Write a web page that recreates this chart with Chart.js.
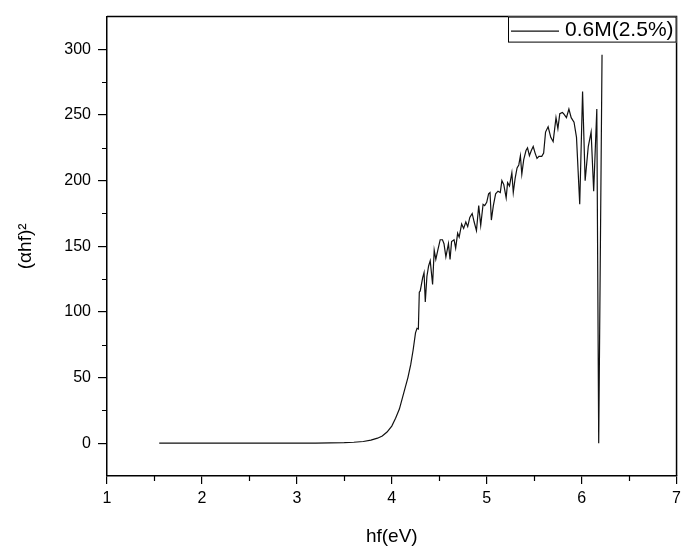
<!DOCTYPE html>
<html>
<head>
<meta charset="utf-8">
<script src="https://cdn.jsdelivr.net/npm/chart.js@4"></script>
<style>
  body { margin: 0; background: #fff; }
  #wrap { width: 686px; height: 548px; }
</style>
</head>
<body>
<div id="wrap"><canvas id="graphique" width="686" height="548"></canvas></div>
<script>
// Données : énergie du photon hf (eV) et (αhf)²
const serieLabel = "0.6M(2.5%)";
const hfValeurs = [
  1.55, 1.8, 2.0, 2.25, 2.5, 2.75, 3.0, 3.2, 3.35, 3.5, 3.6, 3.7, 3.78, 3.85, 3.9, 3.95,
  4.0, 4.04, 4.08, 4.11, 4.14, 4.17, 4.2, 4.225, 4.25, 4.266, 4.28, 4.29, 4.30, 4.325,
  4.34, 4.353, 4.37, 4.388, 4.405, 4.43, 4.447, 4.464, 4.485, 4.51, 4.534, 4.55, 4.57,
  4.597, 4.614, 4.63, 4.656, 4.673, 4.694, 4.71, 4.736, 4.757, 4.78, 4.80, 4.822, 4.847,
  4.868, 4.892, 4.916, 4.937, 4.962, 4.979, 5.0, 5.02, 5.035, 5.049, 5.07, 5.094, 5.119,
  5.143, 5.16, 5.18, 5.205, 5.22, 5.24, 5.265, 5.28, 5.30, 5.32, 5.338, 5.355, 5.37, 5.39,
  5.414, 5.43, 5.45, 5.47, 5.49, 5.51, 5.53, 5.55, 5.58, 5.6, 5.62, 5.647, 5.675, 5.70,
  5.73, 5.75, 5.77, 5.797, 5.81, 5.84, 5.866, 5.89, 5.92, 5.946, 5.98, 6.01, 6.037, 6.07,
  6.10, 6.127, 6.16, 6.18, 6.215
];
const ahfCarre = [
  0, 0, 0, 0, 0, 0, 0.05, 0.1, 0.2, 0.4, 0.7, 1.3, 2.3, 3.8, 5.5, 8.5,
  13, 19, 26, 34, 42, 50, 60, 71, 84, 87.5, 87, 115, 116, 126,
  130, 107.5, 127, 135, 139, 121, 147, 140, 147, 155, 155, 152, 142,
  152, 140, 153.6, 155, 148.6, 160, 157, 167, 163.6, 168.5, 165, 172, 175,
  168.5, 162, 181, 166, 182, 181, 183.5, 190, 191, 170, 181, 190, 192,
  191, 200, 197, 187, 198.5, 196, 206, 191, 202, 209.7, 212, 219, 205, 216,
  223, 225, 219, 223, 226, 221, 217, 218.5, 218.5, 221, 237, 241, 233, 229.7,
  248, 239.6, 251, 252, 251, 248, 254.6, 248, 244.6, 233, 182, 268, 200, 226,
  237, 192, 254.6, 0, 296
];
const ticksX = [1, 2, 3, 4, 5, 6, 7];
const ticksXMineurs = [1.5, 2.5, 3.5, 4.5, 5.5, 6.5];
const ticksY = [0, 50, 100, 150, 200, 250, 300];
const ticksYMineurs = [25, 75, 125, 175, 225, 275];

const police = "'Liberation Sans', Arial, sans-serif";

// Cadre, petites graduations et légende
const decorations = {
  id: "decorations",
  afterDraw(chart) {
    const { ctx, chartArea: a, scales } = chart;
    ctx.save();
    ctx.strokeStyle = "#000";
    ctx.lineWidth = 1.5;
    ctx.beginPath();
    ctx.moveTo(a.left, a.top);
    ctx.lineTo(a.right, a.top);
    ctx.lineTo(a.right, a.bottom);
    ctx.stroke();

    ctx.lineWidth = 1.2;
    ctx.beginPath();
    for (const v of ticksYMineurs) {
      const py = Math.round(scales.y.getPixelForValue(v)) + 0.5;
      ctx.moveTo(a.left - 5, py);
      ctx.lineTo(a.left, py);
    }
    for (const v of ticksXMineurs) {
      const px = Math.round(scales.x.getPixelForValue(v)) + 0.5;
      ctx.moveTo(px, a.bottom);
      ctx.lineTo(px, a.bottom + 5);
    }
    ctx.stroke();

    // légende
    ctx.font = "21px " + police;
    const largeurTexte = ctx.measureText(serieLabel).width;
    const largeur = 3 + 48 + 6 + largeurTexte + 3;
    const hauteur = 26;
    const gauche = a.right - largeur;
    const haut = a.top;
    ctx.fillStyle = "#fff";
    ctx.fillRect(gauche, haut, largeur, hauteur);
    ctx.lineWidth = 1;
    ctx.strokeStyle = "#000";
    ctx.strokeRect(gauche + 0.5, haut + 0.5, largeur - 1, hauteur - 1);
    ctx.lineWidth = 1.2;
    ctx.strokeStyle = "#111";
    ctx.beginPath();
    ctx.moveTo(gauche + 3, haut + 14.5);
    ctx.lineTo(gauche + 51, haut + 14.5);
    ctx.stroke();
    ctx.fillStyle = "#000";
    ctx.textBaseline = "middle";
    ctx.fillText(serieLabel, gauche + 57, haut + 14);
    ctx.restore();
  }
};

const points = hfValeurs.map((x, i) => ({ x: x, y: ahfCarre[i] }));

const config = {
  type: "scatter",
  data: {
    datasets: [{
      label: serieLabel,
      data: points,
      showLine: true,
      borderColor: "#111",
      borderWidth: 1.2,
      pointRadius: 0,
      tension: 0
    }]
  },
  options: {
    responsive: false,
    animation: false,
    layout: { padding: { top: 7, right: 4, left: 0, bottom: 0 } },
    plugins: { legend: { display: false }, tooltip: { enabled: false } },
    scales: {
      x: {
        type: "linear",
        min: 1,
        max: 7,
        afterBuildTicks: s => { s.ticks = ticksX.map(v => ({ value: v })); },
        afterFit: s => { s.height = 72; },
        ticks: { color: "#000", font: { family: police, size: 16 }, padding: 5, maxRotation: 0, autoSkip: false },
        grid: { drawOnChartArea: false, tickLength: 8, color: "#000", lineWidth: 1.2 },
        border: { color: "#000", width: 1.5 },
        title: { display: true, text: "hf(eV)", color: "#000", font: { family: police, size: 19 }, padding: { top: 0, bottom: 0 } }
      },
      y: {
        type: "linear",
        min: -25,
        max: 325,
        afterBuildTicks: s => { s.ticks = ticksY.map(v => ({ value: v })); },
        afterFit: s => { s.width = 107; },
        ticks: { color: "#000", font: { family: police, size: 16 }, padding: 7, autoSkip: false },
        grid: { drawOnChartArea: false, tickLength: 9, color: "#000", lineWidth: 1.2 },
        border: { color: "#000", width: 1.5 },
        title: { display: true, text: "(αhf)²", color: "#000", font: { family: police, size: 19 }, padding: { top: 14, bottom: 0 } }
      }
    }
  },
  plugins: [decorations]
};

const graphique = new Chart(document.querySelector("#graphique"), config);
</script>
</body>
</html>
